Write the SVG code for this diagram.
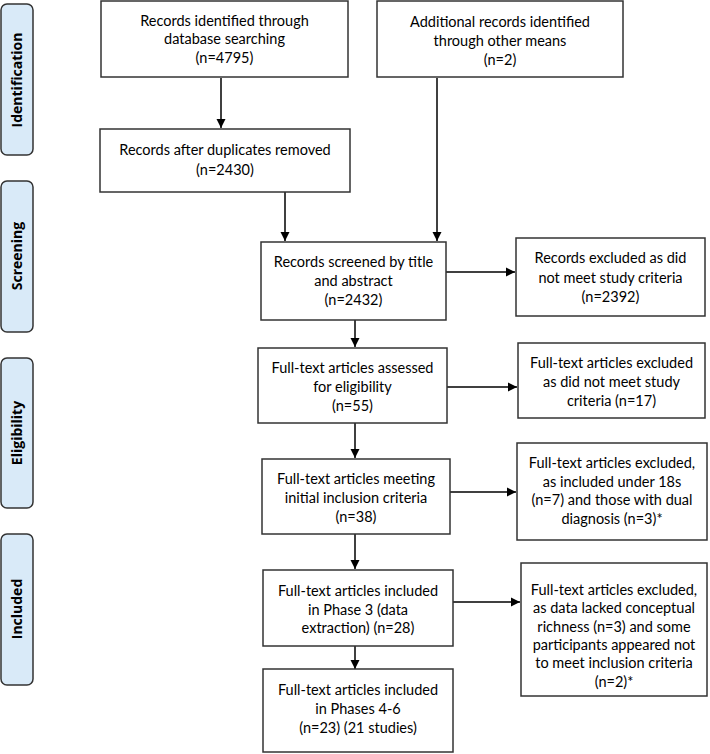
<svg xmlns="http://www.w3.org/2000/svg" width="710" height="754" viewBox="0 0 710 754">
<defs>
<marker id="ah" markerWidth="10" markerHeight="10" refX="9" refY="5" orient="auto" markerUnits="userSpaceOnUse">
<path d="M0,0.5 L9,5 L0,9.5 Z" fill="#000"/>
</marker>
<style>
.box{fill:#fff;stroke:#333;stroke-width:1.5}
.phase{fill:#d9eaf8;stroke:#333;stroke-width:1.5}
.t{font-family:Lato,"Liberation Sans",sans-serif;font-size:14.5px;fill:#000;text-anchor:middle}
.pt{font-family:"Open Sans","Liberation Sans",sans-serif;font-size:14px;font-weight:bold;fill:#000;text-anchor:middle}
.c{stroke:#000;stroke-width:1.5;fill:none;marker-end:url(#ah)}
</style>
</defs>
<rect width="710" height="754" fill="#fff"/>
<g id="phase-identification"><rect class="phase" x="1" y="4" width="32" height="151" rx="6"/><text class="pt" transform="translate(22,80) rotate(-90)">Identification</text></g>
<g id="phase-screening"><rect class="phase" x="1" y="181" width="32" height="151" rx="6"/><text class="pt" transform="translate(22,256) rotate(-90)">Screening</text></g>
<g id="phase-eligibility"><rect class="phase" x="1" y="358" width="32" height="150" rx="6"/><text class="pt" transform="translate(22,433) rotate(-90)">Eligibility</text></g>
<g id="phase-included"><rect class="phase" x="1" y="534" width="32" height="151" rx="6"/><text class="pt" transform="translate(22,609) rotate(-90)">Included</text></g>

<g id="connectors">
<line class="c" x1="221" y1="78" x2="221" y2="128"/>
<line class="c" x1="437" y1="78" x2="437" y2="241"/>
<line class="c" x1="285" y1="192" x2="285" y2="241"/>
<line class="c" x1="446" y1="272" x2="515" y2="272"/>
<line class="c" x1="355" y1="320" x2="355" y2="347"/>
<line class="c" x1="447" y1="387" x2="517" y2="387"/>
<line class="c" x1="355" y1="423" x2="355" y2="458"/>
<line class="c" x1="450" y1="492" x2="516" y2="492"/>
<line class="c" x1="355" y1="534" x2="355" y2="569"/>
<line class="c" x1="453" y1="602" x2="520" y2="602"/>
<line class="c" x1="355" y1="646" x2="355" y2="669"/>
</g>

<g id="n-db"><rect class="box" x="101" y="1" width="247" height="76"/>
<text class="t" x="224.5" y="26">Records identified through</text><text class="t" x="224.5" y="44">database searching</text><text class="t" x="224.5" y="63">(n=4795)</text></g>
<g id="n-other"><rect class="box" x="377" y="1" width="246" height="76"/>
<text class="t" x="500" y="27">Additional records identified</text><text class="t" x="500" y="46">through other means</text><text class="t" x="500" y="65">(n=2)</text></g>
<g id="n-dup"><rect class="box" x="100" y="129" width="250" height="63"/>
<text class="t" x="225" y="155">Records after duplicates removed</text><text class="t" x="225" y="175">(n=2430)</text></g>
<g id="n-screened"><rect class="box" x="261" y="242" width="185" height="78"/>
<text class="t" x="353.5" y="267">Records screened by title</text><text class="t" x="353.5" y="286">and abstract</text><text class="t" x="353.5" y="305">(n=2432)</text></g>
<g id="n-excl1"><rect class="box" x="516" y="238" width="189" height="78"/>
<text class="t" x="610.5" y="263">Records excluded as did</text><text class="t" x="610.5" y="283">not meet study criteria</text><text class="t" x="610.5" y="302">(n=2392)</text></g>
<g id="n-assessed"><rect class="box" x="258" y="348" width="189" height="75"/>
<text class="t" x="352.5" y="373">Full-text articles assessed</text><text class="t" x="352.5" y="392">for eligibility</text><text class="t" x="352.5" y="411">(n=55)</text></g>
<g id="n-excl2"><rect class="box" x="518" y="343" width="187" height="75"/>
<text class="t" x="611.5" y="368">Full-text articles excluded</text><text class="t" x="611.5" y="387">as did not meet study</text><text class="t" x="611.5" y="406">criteria (n=17)</text></g>
<g id="n-meeting"><rect class="box" x="262" y="459" width="188" height="75"/>
<text class="t" x="356" y="484">Full-text articles meeting</text><text class="t" x="356" y="503">initial inclusion criteria</text><text class="t" x="356" y="522">(n=38)</text></g>
<g id="n-excl3"><rect class="box" x="517" y="443" width="190" height="97"/>
<text class="t" x="612" y="468">Full-text articles excluded,</text><text class="t" x="612" y="487">as included under 18s</text><text class="t" x="612" y="505">(n=7) and those with dual</text><text class="t" x="612" y="524">diagnosis (n=3)*</text></g>
<g id="n-phase3"><rect class="box" x="263" y="570" width="190" height="76"/>
<text class="t" x="358" y="596">Full-text articles included</text><text class="t" x="358" y="615">in Phase 3 (data</text><text class="t" x="358" y="633">extraction) (n=28)</text></g>
<g id="n-excl4"><rect class="box" x="521" y="563" width="186" height="133"/>
<text class="t" x="614" y="595">Full-text articles excluded,</text><text class="t" x="614" y="613">as data lacked conceptual</text><text class="t" x="614" y="632">richness (n=3) and some</text><text class="t" x="614" y="650">participants appeared not</text><text class="t" x="614" y="668">to meet inclusion criteria</text><text class="t" x="614" y="687">(n=2)*</text></g>
<g id="n-final"><rect class="box" x="263" y="669" width="190" height="83"/>
<text class="t" x="358" y="695">Full-text articles included</text><text class="t" x="358" y="714">in Phases 4-6</text><text class="t" x="358" y="733">(n=23) (21 studies)</text></g>
</svg>
